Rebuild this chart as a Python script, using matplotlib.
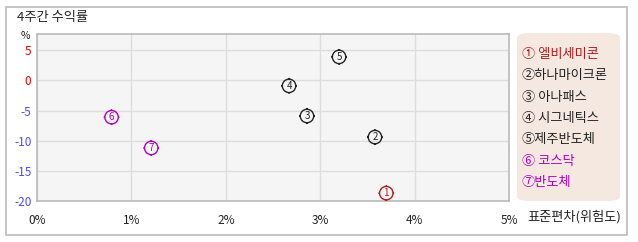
import numpy as np
import matplotlib.pyplot as plt
from matplotlib.path import Path
from matplotlib.patches import FancyBboxPatch, Rectangle

plt.rcParams['font.family'] = ['Noto Sans CJK KR', 'DejaVu Sans']

# data
names = ['엘비세미콘', '하나마이크론', '아나패스', '시그네틱스', '제주반도체', '코스닥', '반도체']
circled = ['① ', '②', '③ ', '④ ', '⑤', '⑥ ', '⑦']
risk = [3.70, 3.58, 2.86, 2.67, 3.20, 0.79, 1.21]      # std dev, %
ret4w = [-18.7, -9.4, -5.9, -0.9, 3.9, -6.1, -11.2]     # 4-week return, %
xticks = [0, 1, 2, 3, 4, 5]
yticks = [5, 0, -5, -10, -15, -20]

colorRed = '#b01c1c'
colorDark = '#222222'
colorMag = '#b000c0'
pointColors = [colorRed, colorDark, colorDark, colorDark, colorDark, colorMag, colorMag]

# target-like marker: circle with four small ticks
circ = Path.unit_circle()
tickVerts = [(0, 1), (0, 1.18), (0, -1), (0, -1.18), (1, 0), (1.18, 0), (-1, 0), (-1.18, 0)]
tickCodes = [Path.MOVETO, Path.LINETO] * 4
targetMarker = Path.make_compound_path(circ, Path(tickVerts, tickCodes))

W, H = 638, 242
fig = plt.figure(figsize=(W / 100, H / 100), dpi=100)

# outer frame
fig.patches.append(Rectangle((6 / W, 1 - 235 / H), 621 / W, 228 / H, transform=fig.transFigure,
                             fill=False, edgecolor='#bbbbbb', lw=1.2))

ax = fig.add_axes([37 / W, 1 - 201 / H, (509 - 37) / W, (201 - 34) / H])
ax.set_facecolor('#f5f5f5')
ax.set_xlim(0, 5)
ax.set_ylim(-20, 7.7)
ax.set_xticks(xticks)
ax.set_yticks(yticks)
ax.grid(True, color='#dddddd', lw=1)
ax.set_axisbelow(True)
for s in ax.spines.values():
    s.set_color('#bbbbbb')
    s.set_linewidth(1.2)
ax.tick_params(length=0, labelsize=8.5)
ax.set_xticklabels([f'{t}%' for t in xticks], color='#222222')
ax.set_yticklabels([str(t) for t in yticks])
for lab, t in zip(ax.get_yticklabels(), yticks):
    lab.set_color('#ee0000' if t >= 0 else '#4a4aff')
ax.tick_params(axis='y', pad=4)
ax.tick_params(axis='x', pad=9)

ax.scatter(risk, ret4w, marker=targetMarker, s=130, facecolors='none',
           edgecolors=pointColors, linewidths=1.0, zorder=3)
for i, (x, y) in enumerate(zip(risk, ret4w)):
    ax.text(x, y, str(i + 1), color=pointColors[i], fontsize=7, ha='center', va='center', zorder=4)

fig.text(17 / W, 1 - 17 / H, '4주간 수익률', fontsize=9.5, va='center', ha='left', color='#222222')
fig.text(25 / W, 1 - 36 / H, '%', fontsize=7.5, va='center', ha='center', color='#222222')
fig.text(527 / W, 1 - 217 / H, '표준편차(위험도)', fontsize=9.5, va='center', ha='left', color='#222222')

# legend panel
fig.patches.append(FancyBboxPatch((517 / W, 1 - 201 / H), 103 / W, 168 / H, transform=fig.transFigure,
                                  boxstyle='round,pad=0,rounding_size=0.02', facecolor='#f5e8e1',
                                  edgecolor='none'))
for i, name in enumerate(names):
    y = 54.5 + i * 21.3
    fig.text(522 / W, 1 - y / H, f'{circled[i]}{name}', fontsize=9.5, va='center', ha='left',
             color=pointColors[i])

fig.savefig('out.png', dpi=100)
